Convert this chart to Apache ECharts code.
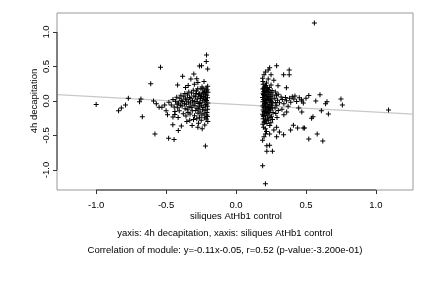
<!DOCTYPE html>
<html><head><meta charset="utf-8">
<script src="https://cdn.jsdelivr.net/npm/echarts@6/dist/echarts.min.js"></script>
<style>html,body{margin:0;padding:0;background:#fff}#c{width:432px;height:288px}</style>
</head><body><div id="c"></div>
<script>
var xTicks = [-1.0, -0.5, 0.0, 0.5, 1.0];
var yTicks = [-1.0, -0.5, 0.0, 0.5, 1.0];
var xRange = [-1.28, 1.265];
var yRange = [-1.29, 1.275];
var fitSlope = -0.11, fitIntercept = -0.05;
var xTitle = "siliques AtHb1 control";
var yTitle = "4h decapitation";
var subLine1 = "yaxis: 4h decapitation, xaxis: siliques AtHb1 control";
var subLine2 = "Correlation of module: y=-0.11x-0.05, r=0.52 (p-value:-3.200e-01)";

var leftCluster = [
[-0.203,0.214],[-0.214,0.187],[-0.207,0.162],[-0.226,0.141],[-0.201,0.128],[-0.218,0.097],[-0.209,0.083],[-0.232,0.066],[-0.204,0.047],[-0.219,0.021],[-0.211,0.008],[-0.228,-0.014],[-0.202,-0.031],[-0.215,-0.052],[-0.206,-0.078],[-0.236,-0.093],[-0.203,-0.118],[-0.221,-0.134],[-0.208,-0.167],[-0.229,-0.185],[-0.205,-0.226],[-0.213,-0.262],[-0.202,-0.297],[-0.224,-0.347],
[-0.243,0.203],[-0.251,0.172],[-0.238,0.118],[-0.262,0.104],[-0.247,0.071],[-0.255,0.036],[-0.241,0.012],[-0.259,-0.024],[-0.246,-0.061],[-0.263,-0.082],[-0.239,-0.127],[-0.257,-0.158],[-0.244,-0.203],[-0.261,-0.236],[-0.249,-0.281],
[-0.274,0.176],[-0.283,0.143],[-0.268,0.089],[-0.291,0.062],[-0.277,0.028],[-0.286,-0.006],[-0.271,-0.037],[-0.294,-0.068],[-0.279,-0.104],[-0.288,-0.139],[-0.272,-0.176],[-0.297,-0.214],[-0.281,-0.259],[-0.268,-0.322],
[-0.306,0.154],[-0.318,0.116],[-0.302,0.073],[-0.323,0.041],[-0.311,0.003],[-0.327,-0.029],[-0.308,-0.058],[-0.321,-0.096],[-0.313,-0.142],[-0.329,-0.187],[-0.304,-0.268],
[-0.338,0.131],[-0.347,0.087],[-0.333,0.052],[-0.352,0.018],[-0.341,-0.016],[-0.356,-0.047],[-0.336,-0.083],[-0.349,-0.121],[-0.343,-0.168],[-0.358,-0.219],[-0.331,-0.279],
[-0.366,0.108],[-0.374,0.062],[-0.362,0.027],[-0.381,-0.008],[-0.369,-0.039],[-0.386,-0.074],[-0.364,-0.112],[-0.377,-0.186],
[-0.394,0.083],[-0.402,0.039],[-0.391,0.004],[-0.412,-0.028],[-0.398,-0.061],[-0.417,-0.097],[-0.406,-0.143],[-0.424,0.054],[-0.433,-0.004],[-0.421,-0.046],[-0.442,-0.089],[-0.451,0.021],[-0.463,-0.058],[-0.437,-0.151],[-0.414,-0.238],
[-0.223,0.043],[-0.217,-0.071],[-0.231,0.116],[-0.209,-0.204],[-0.254,0.058],[-0.266,-0.117],[-0.287,0.109],[-0.299,-0.012],[-0.224,-0.242],[-0.236,0.176],[-0.211,0.143],[-0.258,-0.037],
[-0.418,0.232],[-0.382,0.358],[-0.302,0.392],[-0.323,0.318],[-0.281,0.322],[-0.262,0.508],[-0.247,0.512],[-0.211,0.668],[-0.213,0.571],[-0.203,0.462],[-0.342,0.224],[-0.273,0.268],[-0.229,0.284],[-0.361,0.196],[-0.298,0.241],
[-0.452,-0.346],[-0.413,-0.428],[-0.391,-0.362],[-0.482,-0.541],[-0.443,-0.558],[-0.219,-0.652],[-0.451,-0.231],[-0.438,-0.197],[-0.352,-0.298],[-0.314,-0.357],[-0.273,-0.381],[-0.242,-0.404],
[-1.0,-0.05],[-0.84,-0.14],[-0.82,-0.1],[-0.79,-0.06],[-0.77,0.04],[-0.69,-0.01],[-0.68,0.03],[-0.67,-0.23],[-0.61,0.25],[-0.59,0.0],[-0.54,0.49],[-0.58,-0.48],[-0.57,-0.04],[-0.55,-0.09],[-0.53,-0.09],[-0.5,-0.14],[-0.49,-0.2],[-0.51,-0.06],[-0.48,-0.02]
];
var rightCluster = [
[0.192,0.283],[0.194,0.241],[0.203,0.204],[0.191,0.172],[0.198,0.138],[0.193,0.112],[0.201,0.078],[0.19,0.049],[0.197,0.021],[0.192,-0.012],[0.204,-0.043],[0.191,-0.071],[0.199,-0.098],[0.193,-0.132],[0.202,-0.163],[0.19,-0.191],[0.198,-0.224],[0.194,-0.258],[0.201,-0.302],[0.192,-0.338],[0.197,-0.381],
[0.218,0.262],[0.211,0.223],[0.224,0.184],[0.213,0.151],[0.221,0.119],[0.208,0.091],[0.226,0.058],[0.214,0.032],[0.219,0.004],[0.209,-0.027],[0.223,-0.059],[0.212,-0.088],[0.227,-0.121],[0.211,-0.149],[0.219,-0.182],[0.208,-0.213],[0.224,-0.247],[0.213,-0.286],[0.221,-0.327],[0.209,-0.401],[0.218,-0.441],
[0.238,0.197],[0.232,0.163],[0.243,0.128],[0.234,0.098],[0.241,0.069],[0.229,0.041],[0.246,0.012],[0.236,-0.019],[0.243,-0.048],[0.231,-0.082],[0.245,-0.113],[0.234,-0.141],[0.241,-0.172],[0.229,-0.203],[0.244,-0.238],[0.233,-0.279],[0.241,-0.357],
[0.258,0.152],[0.251,0.118],[0.263,0.087],[0.249,0.061],[0.256,0.028],[0.252,-0.003],[0.262,-0.031],[0.254,-0.063],[0.259,-0.098],[0.248,-0.131],[0.264,-0.168],[0.253,-0.221],[0.261,-0.268],[0.249,-0.317],
[0.196,0.093],[0.205,0.156],[0.2,-0.152],[0.195,-0.213],[0.206,0.009],[0.215,0.068],[0.216,-0.104],[0.204,0.119],[0.211,-0.271],[0.228,0.022],[0.229,-0.163],[0.2,-0.06],[0.226,0.141],[0.202,-0.31],[0.216,0.197],[0.237,-0.098],[0.207,-0.036],[0.197,0.185],
[0.281,0.131],[0.289,0.082],[0.277,0.041],[0.297,0.012],[0.283,-0.021],[0.291,-0.062],[0.279,-0.101],[0.302,-0.138],[0.284,-0.182],[0.293,-0.238],[0.301,0.097],[0.311,-0.024],
[0.322,0.058],[0.331,0.021],[0.342,-0.041],[0.353,0.052],[0.361,0.003],[0.372,-0.078],[0.328,-0.119],[0.383,0.041],[0.391,-0.018],[0.402,0.062],[0.413,0.028],[0.421,0.071],[0.362,-0.161],[0.342,-0.198],[0.433,-0.008],[0.452,0.047],[0.468,0.019],[0.481,-0.031],[0.448,-0.101],
[0.29,0.51],[0.24,0.48],[0.23,0.45],[0.21,0.42],[0.2,0.38],[0.19,0.33],[0.25,0.38],[0.34,0.38],[0.38,0.45],[0.38,0.38],[0.36,0.19],[0.25,0.23],[0.23,0.32],[0.27,0.3],[0.3,0.22],[0.56,1.13],
[0.6,0.09],[0.65,-0.01],[0.64,-0.04],[0.75,0.03],[0.76,-0.06],[1.09,-0.13],[0.66,-0.19],[0.61,-0.14],[0.55,-0.23],[0.54,-0.25],[0.49,-0.39],[0.52,-0.55],[0.58,-0.48],[0.62,-0.58],[0.47,-0.16],[0.47,0.0],[0.57,0.0],[0.52,0.08],[0.5,0.04],
[0.19,-0.94],[0.21,-1.2],[0.19,-0.57],[0.22,-0.65],[0.24,-0.64],[0.22,-0.73],[0.26,-0.73],[0.21,-0.48],[0.24,-0.48],[0.29,-0.52],[0.34,-0.49],[0.31,-0.45],[0.39,-0.42],[0.44,-0.39],[0.48,-0.39],[0.41,-0.35],[0.29,-0.38],[0.27,-0.42],[0.2,-0.52]
];

var points = leftCluster.concat(rightCluster);
var fitLine = [[xRange[0], fitSlope*xRange[0]+fitIntercept],[xRange[1], fitSlope*xRange[1]+fitIntercept]];
var xAxisSeg = [[xTicks[0], yRange[0]],[xTicks[xTicks.length-1], yRange[0]]];
var yAxisSeg = [[xRange[0], yTicks[0]],[xRange[0], yTicks[yTicks.length-1]]];

var FONT = "Liberation Sans";
var plus = 'path://M2,0H3V2H5V3H3V5H2V3H0V2H2Z';
var chart = echarts.init(document.getElementById('c'), null, {renderer:'canvas'});
chart.setOption({
  animation:false,
  backgroundColor:'#fff',
  grid:{left:57,right:19,top:13,bottom:98,show:true,borderColor:'#999',borderWidth:1,backgroundColor:'transparent'},
  xAxis:{type:'value',min:xRange[0],max:xRange[1],
    axisLine:{show:false,onZero:false},
    splitLine:{show:false},
    axisTick:{show:true,length:4,inside:false,customValues:xTicks,lineStyle:{color:'#333'}},
    axisLabel:{customValues:xTicks,margin:10,fontFamily:FONT,fontSize:9.5,color:'#000',formatter:function(v){return v.toFixed(1);}}
  },
  yAxis:{type:'value',min:yRange[0],max:yRange[1],
    axisLine:{show:false,onZero:false},
    splitLine:{show:false},
    axisTick:{show:true,length:4,inside:false,customValues:yTicks,lineStyle:{color:'#333'}},
    axisLabel:{customValues:yTicks,margin:6,rotate:90,fontFamily:FONT,fontSize:9.5,color:'#000',formatter:function(v){return v.toFixed(1);}}
  },
  series:[
    {type:'line',data:fitLine,symbol:'none',lineStyle:{color:'#c8c8c8',width:1.2},z:1,silent:true},
    {type:'scatter',data:points,symbol:plus,symbolSize:5,itemStyle:{color:'#000',opacity:1},z:3,silent:true},
    {type:'line',data:xAxisSeg,symbol:'none',clip:false,lineStyle:{color:'#333',width:1},z:4,silent:true},
    {type:'line',data:yAxisSeg,symbol:'none',clip:false,lineStyle:{color:'#333',width:1},z:4,silent:true}
  ],
  graphic:[
    {type:'text',x:34,y:101,rotation:Math.PI/2,style:{text:yTitle,x:0,y:0,textAlign:'center',textVerticalAlign:'middle',font:'9.5px "Liberation Sans"',fill:'#000'}},
    {type:'text',style:{text:xTitle,x:236,y:216,textAlign:'center',textVerticalAlign:'middle',font:'9.5px "Liberation Sans"',fill:'#000'}},
    {type:'text',style:{text:subLine1,x:225,y:233,textAlign:'center',textVerticalAlign:'middle',font:'9.5px "Liberation Sans"',fill:'#000'}},
    {type:'text',style:{text:subLine2,x:225,y:250,textAlign:'center',textVerticalAlign:'middle',font:'9.5px "Liberation Sans"',fill:'#000'}}
  ]
});
</script></body></html>
